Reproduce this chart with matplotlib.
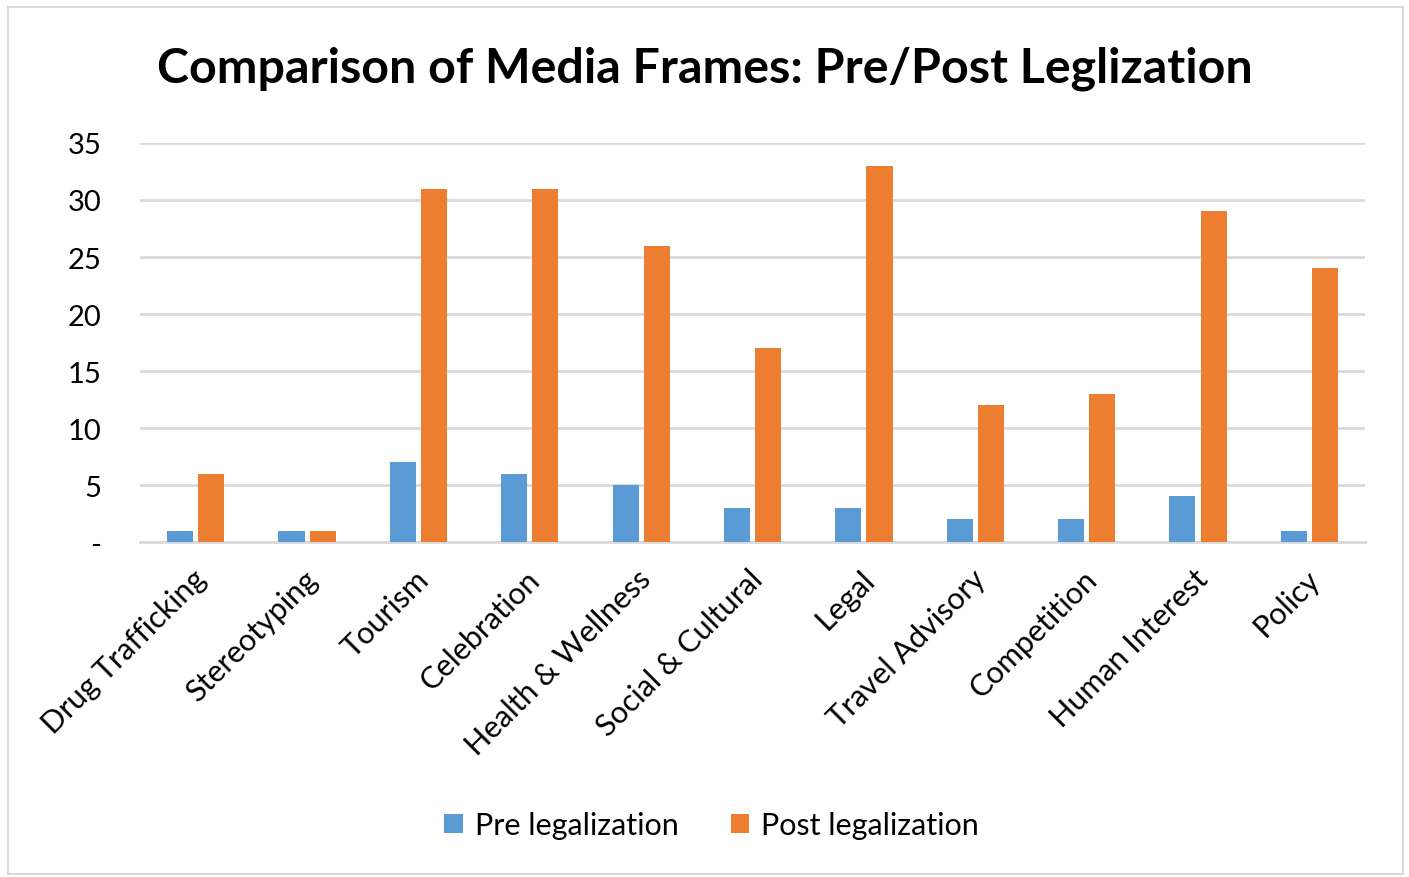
import matplotlib.pyplot as plt
import numpy as np
from matplotlib.patches import Rectangle

categories = ['Drug Trafficking', 'Stereotyping', 'Tourism', 'Celebration',
              'Health & Wellness', 'Social & Cultural', 'Legal', 'Travel Advisory',
              'Competition', 'Human Interest', 'Policy']
pre_values = [1, 1, 7, 6, 5, 3, 3, 2, 2, 4, 1]
post_values = [6, 1, 31, 31, 26, 17, 33, 12, 13, 29, 24]
y_ticks = [0, 5, 10, 15, 20, 25, 30, 35]
y_tick_labels = ['-', '5', '10', '15', '20', '25', '30', '35']

plt.rcParams['font.family'] = ['Lato', 'DejaVu Sans']

fig = plt.figure(figsize=(14.09, 8.78), dpi=100)
ax = fig.add_axes([0.0994, 0.3815, 0.8694, 0.4545])

# light border around the chart area
fig.patches.append(Rectangle((0.006, 0.003), 0.990, 0.988, transform=fig.transFigure,
                             fill=False, edgecolor='#d9d9d9', linewidth=1.5))

x = np.arange(len(categories))
w = 0.235
ax.bar(x - 0.14, pre_values, w, color='#5B9BD5', label='Pre legalization', zorder=3)
ax.bar(x + 0.14, post_values, w, color='#ED7D31', label='Post legalization', zorder=3)

ax.set_xlim(-0.5, len(categories) - 0.5)
ax.set_ylim(0, 35)
ax.set_yticks(y_ticks)
ax.set_yticklabels(y_tick_labels, fontsize=21)
ax.yaxis.grid(True, color='#d9d9d9', linewidth=2, zorder=0)
ax.set_axisbelow(True)
for s in ['top', 'right', 'left']:
    ax.spines[s].set_visible(False)
ax.spines['bottom'].set_color('#d9d9d9')
ax.spines['bottom'].set_linewidth(2)
ax.tick_params(axis='both', length=0)
ax.tick_params(axis='y', pad=28)

ax.set_xticks(x - 0.04)
ax.set_xticklabels(categories, rotation=45, ha='right', va='top',
                   rotation_mode='anchor', fontsize=22)
ax.tick_params(axis='x', pad=16)

fig.text(0.500, 0.922, 'Comparison of Media Frames: Pre/Post Leglization',
         ha='center', va='center', fontsize=34.8, fontweight='bold')

fig.legend(loc='center', bbox_to_anchor=(0.505, 0.059), ncol=2, frameon=False,
           fontsize=22, handlelength=0.6, handleheight=0.6, columnspacing=1.7,
           handletextpad=0.4)

fig.savefig('out.png', dpi=100)
